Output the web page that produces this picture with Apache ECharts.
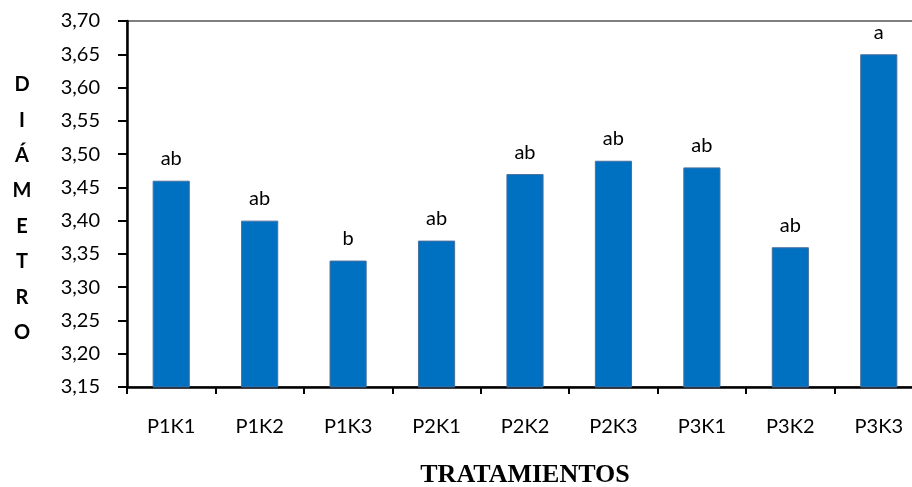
<!DOCTYPE html>
<html>
<head>
<meta charset="utf-8">
<script src="https://cdn.jsdelivr.net/npm/echarts@6/dist/echarts.min.js"></script>
<style>
html,body{margin:0;padding:0;background:#fff;}
#c{width:912px;height:487px;}
</style>
</head>
<body>
<div id="c"></div>
<script>
const categories = ['P1K1','P1K2','P1K3','P2K1','P2K2','P2K3','P3K1','P3K2','P3K3'];
const diametro = [3.46, 3.40, 3.34, 3.37, 3.47, 3.49, 3.48, 3.36, 3.65];
const letras = ['ab','ab','b','ab','ab','ab','ab','ab','a'];
const yTitle = 'D\nI\nÁ\nM\nE\nT\nR\nO';
const xTitle = 'TRATAMIENTOS';

const chart = echarts.init(document.getElementById('c'), null, {renderer:'canvas'});
chart.setOption({
  animation:false,
  backgroundColor:'#fff',
  grid:{left:127, width:796, top:21, height:366, containLabel:false, outerBoundsMode:'none',
        show:true, borderColor:'#000', borderWidth:1, backgroundColor:'transparent'},
  xAxis:{
    type:'category', data:categories,
    axisLine:{lineStyle:{color:'#000', width:2.5}},
    axisTick:{show:true, length:7, lineStyle:{color:'#000', width:2}},
    axisLabel:{margin:30, fontFamily:'Lato', fontSize:20, color:'#000'},
    name:xTitle, nameLocation:'middle', nameGap:75,
    nameTextStyle:{fontFamily:'Liberation Serif', fontWeight:'bold', fontSize:26, color:'#000'}
  },
  yAxis:{
    type:'value', min:3.15, max:3.70, interval:0.05,
    axisLine:{show:true, lineStyle:{color:'#000', width:2.5}},
    axisTick:{show:true, length:9, inside:false, lineStyle:{color:'#000', width:2}},
    splitLine:{show:false},
    axisLabel:{margin:27, fontFamily:'Lato', fontSize:20, color:'#000',
      formatter:v=>v.toFixed(2).replace('.',',')}
  },
  graphic:[{
    type:'text', x:22, y:67,
    style:{text:yTitle, fontFamily:'Lato', fontWeight:'bold', fontSize:20, lineHeight:35.4, fill:'#000', align:'center', verticalAlign:'top'}
  }],
  series:[{
    type:'bar', data:diametro, barWidth:'42%',
    itemStyle:{color:'#0070C0', borderColor:'#4a6f9e', borderWidth:1},
    label:{show:true, position:'top', distance:12, fontFamily:'Lato', fontSize:20, color:'#000',
      formatter:p=>letras[p.dataIndex]}
  }]
});
</script>
</body>
</html>
